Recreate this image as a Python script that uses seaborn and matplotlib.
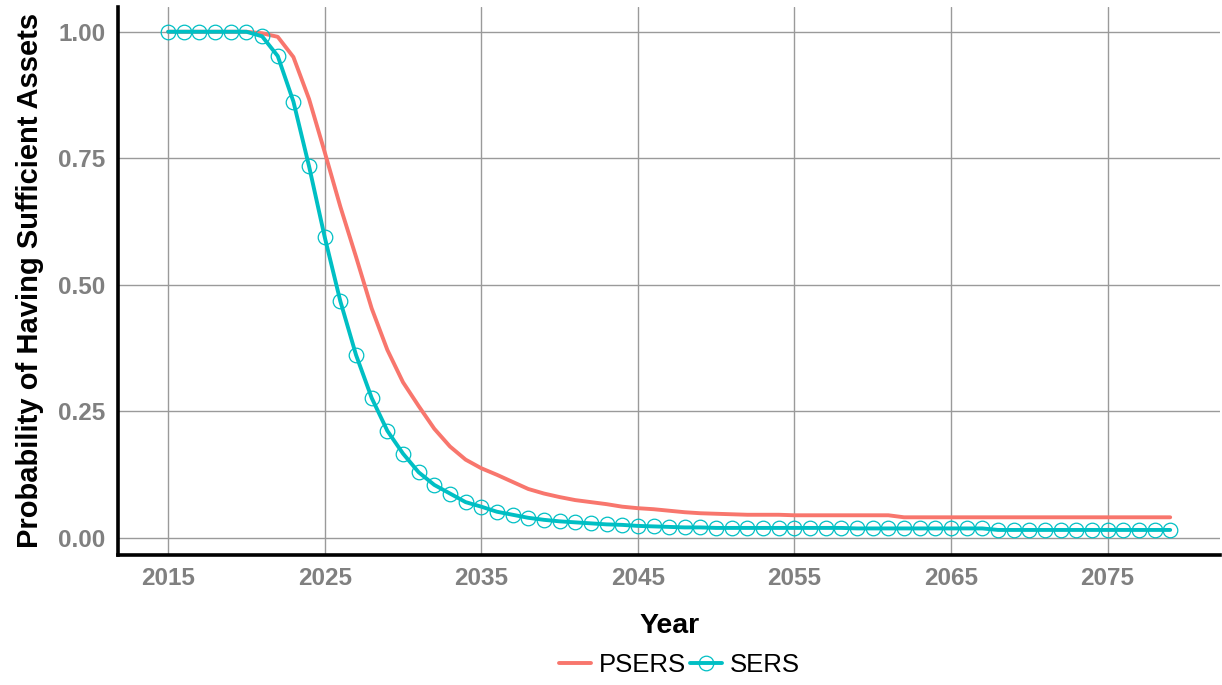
import numpy as np
import pandas as pd
import seaborn as sns
import matplotlib.pyplot as plt

# data
years = list(range(2015, 2080))

psers = [1.0, 1.0, 1.0, 1.0, 1.0, 1.0,
         0.997, 0.990, 0.950, 0.867, 0.762, 0.654, 0.555, 0.453, 0.371,
         0.307, 0.260, 0.215, 0.180, 0.154, 0.137, 0.124, 0.110, 0.096,
         0.087, 0.080, 0.074, 0.070, 0.066, 0.061, 0.058, 0.056, 0.053,
         0.050, 0.048, 0.047, 0.046, 0.045, 0.045, 0.045, 0.044, 0.044,
         0.044, 0.044, 0.044, 0.044, 0.044,
         0.040, 0.040, 0.040, 0.040, 0.040, 0.040, 0.040, 0.040, 0.040,
         0.040, 0.040, 0.040, 0.040, 0.040, 0.040, 0.040, 0.040, 0.040]

sers = [1.0, 1.0, 1.0, 1.0, 1.0, 1.0,
        0.991, 0.952, 0.862, 0.734, 0.594, 0.467, 0.361, 0.276, 0.211,
        0.166, 0.129, 0.104, 0.087, 0.070, 0.061, 0.051, 0.045, 0.039,
        0.035, 0.032, 0.030, 0.028, 0.026, 0.025, 0.023, 0.022, 0.021,
        0.020, 0.020, 0.019, 0.019, 0.019, 0.019, 0.019, 0.019, 0.019,
        0.019, 0.019, 0.018, 0.018, 0.018, 0.018, 0.018, 0.018, 0.018,
        0.018, 0.018, 0.015, 0.015, 0.015, 0.015, 0.015, 0.015, 0.015,
        0.015, 0.015, 0.015, 0.015, 0.015]

df = pd.DataFrame({'Year': years, 'PSERS': psers, 'SERS': sers})

sns.set_style('white')
plt.rcParams['font.family'] = ['Liberation Sans', 'DejaVu Sans']
plt.rcParams['text.color'] = 'black'
plt.rcParams['axes.labelcolor'] = 'black'

red = '#F8766D'
cyan = '#00BFC4'
grid_col = '#9a9a9a'

fig = plt.figure(figsize=(12.22, 6.85), dpi=100)
ax = fig.add_axes([0.0966, 0.19, 0.902, 0.80])

sns.lineplot(data=df, x='Year', y='PSERS', ax=ax, color=red, linewidth=2.8,
             label='PSERS', zorder=3)
sns.lineplot(data=df, x='Year', y='SERS', ax=ax, color=cyan, linewidth=2.8,
             marker='o', markersize=10.5, markerfacecolor='none',
             markeredgecolor=cyan, markeredgewidth=0.9, label='SERS', zorder=4)

# ggplot-like expansion
rng = 1.0 - min(sers)
ax.set_ylim(min(sers) - 0.05 * rng, 1.0 + 0.05 * rng)
ax.set_xlim(2015 - 0.05 * 64, 2079 + 0.05 * 64)

ax.set_xticks([2015, 2025, 2035, 2045, 2055, 2065, 2075])
ax.set_yticks([0.0, 0.25, 0.5, 0.75, 1.0])
ax.set_yticklabels(['0.00', '0.25', '0.50', '0.75', '1.00'])

ax.grid(True, color=grid_col, linewidth=1.0)
ax.set_axisbelow(True)

for s in ['top', 'right']:
    ax.spines[s].set_visible(False)
for s in ['left', 'bottom']:
    ax.spines[s].set_color('black')
    ax.spines[s].set_linewidth(2.6)

ax.tick_params(axis='both', colors=grid_col, length=4, width=1,
               labelsize=17.5, pad=5)
for lab in ax.get_xticklabels() + ax.get_yticklabels():
    lab.set_fontweight('bold')
    lab.set_color('#808080')

ax.set_xlabel('Year', fontsize=20.5, fontweight='bold', labelpad=16,
              color='black')
ax.set_ylabel('Probability of Having Sufficient Assets', fontsize=21,
              fontweight='bold', labelpad=10, color='black')

ax.get_legend().remove()
handles, labels = ax.get_legend_handles_labels()
leg = fig.legend(handles, labels, loc='center',
                 bbox_to_anchor=(0.556, 1 - 665 / 685), ncol=2,
                 frameon=False, fontsize=18.5, handlelength=1.25,
                 handletextpad=0.3, columnspacing=0.15, numpoints=1)
for t in leg.get_texts():
    t.set_color('black')

plt.savefig('out.png', dpi=100)
plt.close()
